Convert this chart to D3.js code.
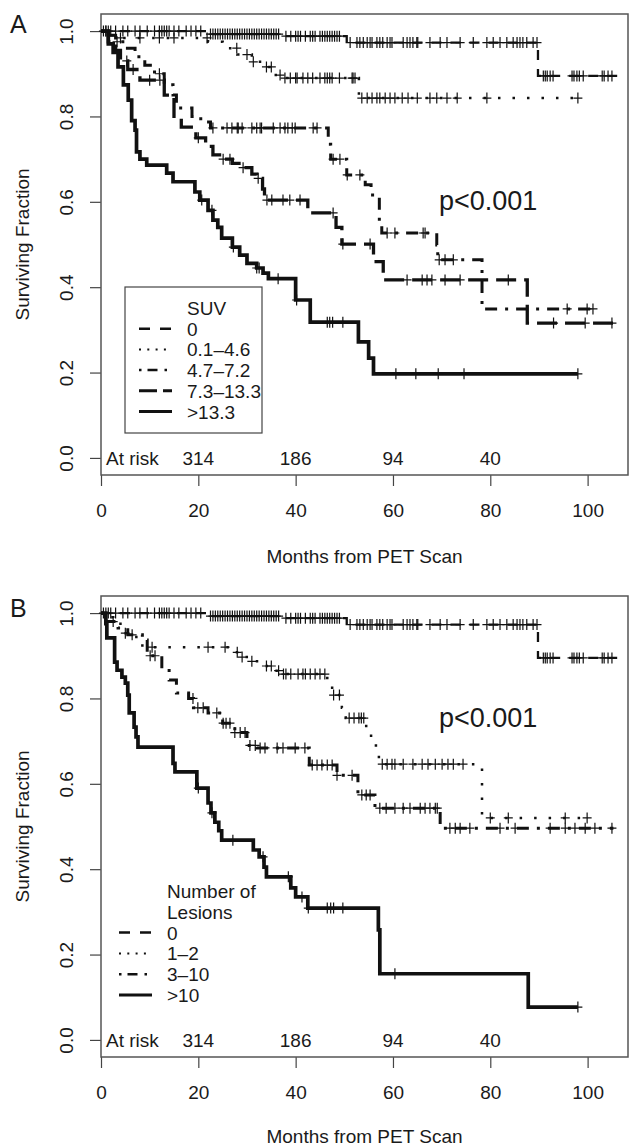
<!DOCTYPE html>
<html>
<head>
<meta charset="utf-8">
<script src="https://cdn.jsdelivr.net/npm/d3@7"></script>
<style>
  body { margin: 0; background: #fff; }
  text { font-family: "Liberation Sans", Arial, sans-serif; fill: #1a1a1a; }
</style>
</head>
<body>
<div id="chart"></div>
<script>
// ---- data ----
var monthTicks = [0, 20, 40, 60, 80, 100];
var survTicks = [0, 0.2, 0.4, 0.6, 0.8, 1.0];
var atRiskTimes = [20, 40, 60, 80];
var atRiskCounts = [314, 186, 94, 40];

// group "0" (same patients in both panels): [month, surviving fraction]
var zeroSteps = [[0,1],[22,0.993],[37.5,0.988],[50.5,0.973],[89.8,0.895]];
var zeroEnd = 106.3;
var zeroCensor = [0.5,1,1.5,2,3,4.5,5.5,7,8,9.5,11,12,12.5,13,13.5,14,15,16,17.5,18.5,19.5,20.5,
  22.5,23,23.5,24,24.5,25,25.5,26,26.5,27,27.5,28,28.5,29,29.5,30,30.5,31,31.5,32,32.5,33,33.5,34,34.5,35,35.5,36,36.5,
  38,39,40,40.5,41,42,43,43.5,44,45,45.5,46,46.5,47,47.5,48,48.5,49,
  51.2,52.6,53.2,53.9,54.7,55.3,55.7,56.7,57.3,57.9,58.8,59.4,59.8,62.1,62.9,63.5,64.1,64.9,65.1,67.6,69.7,71.1,73.8,
  76.5,79.3,80.6,82,83.4,84.7,85.5,86.1,86.7,87.5,88.8,89.6,
  90.9,91.3,91.7,92.3,92.9,96.8,97.2,97.8,98.3,99.1,103,103.4,104.2,105];

// panel A: SUV groups
var suvLowSteps = [[0,1],[1.5,0.99],[3,0.984],[22,0.975],[25,0.96],[28,0.945],[31,0.928],[33,0.916],[35.5,0.897],[37,0.89],[53,0.843]];
var suvLowEnd = 98;
var suvLowCensor = [1,4,8,12,15,21.8,27.9,30,31.3,34,35,36.8,37.8,38.9,40,40.3,41.5,42.5,43.5,45,46,46.5,47,47.5,49,51.6,51.8,52.2,
  53.6,54.7,55.7,56.7,57.3,58.4,59.4,60.4,61.9,63.1,65,67.6,69,71.1,73.2,79.3,98];

var suvMidSteps = [[0,1],[1,0.99],[3,0.975],[5,0.96],[7,0.94],[9,0.92],[11,0.9],[13,0.874],[14.8,0.85],[15.5,0.82],[18.7,0.8],
  [20.5,0.787],[22.5,0.773],[46.7,0.735],[47.2,0.7],[50.5,0.663],[54.3,0.64],[55.5,0.616],[57.2,0.553],[57.7,0.527],
  [69,0.499],[69.2,0.464],[78.3,0.349]];
var suvMidEnd = 102;
var suvMidCensor = [3.3,12,23,25.9,26.9,28,28.2,29,31,32,32.7,33,35.4,36.8,37.8,38.4,39.3,39.9,43.6,44.4,47.7,49.1,50.6,53.2,
  58.8,60.4,66.2,66.6,69.5,70.7,72.4,95.8,99.9,101.1];

var suvUpperSteps = [[0,1],[1.5,0.975],[3,0.955],[4,0.93],[5.5,0.91],[8,0.885],[13,0.85],[15,0.8],[16.5,0.775],[19.5,0.75],
  [21.5,0.73],[23,0.71],[25,0.7],[27,0.69],[29,0.68],[31,0.665],[32,0.655],[33.2,0.63],[33.6,0.604],[42.5,0.574],
  [48.3,0.54],[49.5,0.501],[56,0.46],[58,0.417],[87.6,0.316]];
var suvUpperEnd = 105.8;
var suvUpperCensor = [5.3,6.6,10,12.1,20,25.1,26.5,29.2,32.3,34.1,35.1,37.4,38.8,40.9,47.7,49.7,55.3,62.9,66,67,68,70.7,73.8,83.7,93,99.5,105];

var suvHighSteps = [[0,1],[1.5,0.97],[2.5,0.95],[3.5,0.916],[4.6,0.874],[5.6,0.838],[6.3,0.79],[7,0.768],[7.3,0.717],[8,0.7],
  [9.4,0.686],[13.5,0.667],[14.8,0.647],[19.3,0.623],[20.3,0.604],[22,0.58],[23,0.557],[24,0.54],[24.8,0.515],[27,0.494],
  [28.5,0.475],[30,0.456],[32,0.445],[33.3,0.433],[34.4,0.42],[40,0.37],[43,0.318],[52.9,0.272],[55,0.234],[56,0.197]];
var suvHighEnd = 98;
var suvHighCensor = [20.7,22.8,27.2,32,32.5,36.4,40.2,46.5,47,47.6,49.7,60.6,64.7,69.3,74.6,98];

// panel B: number of lesions
var lesFewSteps = [[0,1],[1,0.99],[2.5,0.98],[4,0.953],[6,0.944],[8.5,0.92],[26.5,0.908],[28.5,0.897],[31,0.887],[33,0.876],
  [35.5,0.865],[37,0.857],[46.5,0.831],[47.5,0.808],[49.5,0.778],[50.3,0.754],[54.5,0.719],[55.5,0.69],[56.5,0.663],
  [57.5,0.646],[78.3,0.52]];
var lesFewEnd = 100.5;
var lesFewCensor = [2.5,5,10.5,22,25.5,28,29,31,34,35,36.5,37.5,38,39,40.5,41.5,42,43,44,45,46,47.8,49,51,52,53,53.5,54,
  57.8,58.8,59.8,60.4,62.1,64.1,66,67.2,68.7,70.1,71.3,72.4,74.4,80,83.7,95.4,99.9];

var lesMidSteps = [[0,1],[1,0.98],[3.5,0.965],[5.5,0.949],[8.5,0.937],[9.5,0.9],[12.5,0.87],[14,0.843],[15.5,0.813],[18,0.8],
  [19,0.778],[22,0.766],[25,0.742],[27.5,0.72],[30,0.69],[32,0.684],[42.8,0.644],[48.5,0.62],[52.8,0.574],[56.3,0.543],[69.7,0.496]];
var lesMidEnd = 105.3;
var lesMidCensor = [6.4,10.1,11.1,18.9,19.9,21,23.8,25.1,25.7,26.5,27.5,28.6,29.6,30.6,31.7,32.7,33.7,36.2,37.4,39.9,41.9,
  43.4,44.4,45.4,46.5,47.5,48.5,51.6,53.6,54.5,55.3,57.3,58.6,60.4,62.1,63.5,65.6,66.6,67.6,68.7,69.1,71.7,72.8,73.8,75.8,
  82,85.1,92.3,95.4,97.4,99.5,101.5,105];

var lesHighSteps = [[0,1],[1,0.975],[1.2,0.942],[2.8,0.885],[3.3,0.866],[4.3,0.85],[5,0.836],[5.5,0.808],[5.8,0.766],[6.8,0.733],
  [7.2,0.71],[7.6,0.686],[14.8,0.648],[15.2,0.628],[19.7,0.59],[22,0.555],[22.6,0.532],[23.4,0.51],[24.2,0.49],[24.8,0.468],
  [31.3,0.445],[32.5,0.429],[33.5,0.405],[34,0.382],[39,0.356],[40,0.335],[42.5,0.309],[57,0.258],[57.3,0.155],[87.8,0.077]];
var lesHighEnd = 98;
var lesHighCensor = [20,22.8,27.1,33.3,38.5,41.3,42.6,46.5,47.2,47.8,49.7,60.4,98];

var suvLabels = ["0", "0.1\u20134.6", "4.7\u20137.2", "7.3\u201313.3", ">13.3"];
var lesionLabels = ["0", "1\u20132", "3\u201310", ">10"];

// ---- line styles (R lty look) ----
var styles = {
  dashed:   {w: 2.3, dash: "10,9",     lw: 2.5, ldash: "11,10"},
  dotted:   {w: 2.5, dash: "2.5,12",   lw: 2,   ldash: "2,6.3"},
  dotdash:  {w: 3,   dash: "3,8,12,8", lw: 2.5, ldash: "2.5,6,10,7"},
  longdash: {w: 3.3, dash: "20,8",     lw: 3,   ldash: "18,6"},
  solid:    {w: 3.7, dash: null,       lw: 3,   ldash: null}
};

var fs = "19px";

var svg = d3.select("#chart").append("svg")
  .attr("width", 630)
  .attr("height", 1148);

var x = d3.scaleLinear().domain([0, 108.3]).range([101, 628]);

function stepAt(steps, t) {
  var s = steps[0][1];
  steps.forEach(function(d) { if (d[0] <= t) s = d[1]; });
  return s;
}

function drawPanel(p) {
  var y = d3.scaleLinear().domain([-0.04, 1.04]).range([p.bottom, p.top]);
  var g = svg.append("g");

  // x axis
  var xa = g.append("g")
    .attr("transform", "translate(0," + p.bottom + ")")
    .call(d3.axisBottom(x).tickValues(monthTicks).tickSize(11).tickFormat(d3.format("d")));
  xa.select(".domain").remove();
  xa.selectAll("line").attr("stroke", "#444").attr("stroke-width", 1.2);
  xa.selectAll("text").attr("y", p.xTickY).attr("dy", 0).style("font-size", fs);

  // y axis
  var ya = g.append("g")
    .attr("transform", "translate(101,0)")
    .call(d3.axisLeft(y).tickValues(survTicks).tickSize(11).tickFormat(d3.format(".1f")));
  ya.select(".domain").remove();
  ya.selectAll("line").attr("stroke", "#444").attr("stroke-width", 1.2);
  ya.selectAll("text")
    .attr("transform", "rotate(-90)")
    .attr("x", 0).attr("y", -28).attr("dy", 0)
    .style("text-anchor", "middle")
    .style("font-size", fs);

  // plot box
  g.append("rect")
    .attr("x", 101).attr("y", p.top)
    .attr("width", 527).attr("height", p.bottom - p.top)
    .attr("fill", "none").attr("stroke", "#555").attr("stroke-width", 1.5);

  // curves
  var line = d3.line()
    .x(function(d) { return x(d[0]); })
    .y(function(d) { return y(d[1]); })
    .curve(d3.curveStepAfter);

  p.groups.forEach(function(grp) {
    var st = styles[grp.style];
    var pts = grp.steps.concat([[grp.end, grp.steps[grp.steps.length - 1][1]]]);
    g.append("path")
      .attr("d", line(pts))
      .attr("fill", "none")
      .attr("stroke", "#111")
      .attr("stroke-width", st.w)
      .attr("stroke-dasharray", st.dash);

    g.selectAll(null)
      .data(grp.censor)
      .enter()
      .append("path")
      .attr("transform", function(t) { return "translate(" + x(t) + "," + y(stepAt(grp.steps, t)) + ")"; })
      .attr("d", "M-4.5,0H4.5M0,-5.5V5.5")
      .attr("stroke", "#111")
      .attr("stroke-width", 1.2);
  });

  // at risk row
  g.append("text").attr("x", 106).attr("y", p.riskY).style("font-size", fs).text("At risk");
  g.selectAll(null)
    .data(atRiskTimes)
    .enter()
    .append("text")
    .attr("x", function(t) { return x(t); })
    .attr("y", p.riskY)
    .style("text-anchor", "middle")
    .style("font-size", fs)
    .text(function(t, i) { return atRiskCounts[i]; });

  // titles
  g.append("text")
    .attr("transform", "translate(29," + ((p.top + p.bottom) / 2) + ") rotate(-90)")
    .style("text-anchor", "middle").style("font-size", fs)
    .text("Surviving Fraction");
  g.append("text")
    .attr("x", 364.5).attr("y", p.xTitleY)
    .style("text-anchor", "middle").style("font-size", fs)
    .text("Months from PET Scan");
  g.append("text")
    .attr("x", 10).attr("y", p.letterY)
    .style("font-size", "25px")
    .text(p.letter);
  g.append("text")
    .attr("x", 439).attr("y", p.pY)
    .style("font-size", "27px")
    .text("p<0.001");

  // legend
  var lg = p.legend;
  if (lg.box) {
    g.append("rect")
      .attr("x", lg.box[0]).attr("y", lg.box[1])
      .attr("width", lg.box[2]).attr("height", lg.box[3])
      .attr("fill", "#fff").attr("stroke", "#444").attr("stroke-width", 1.2);
  }
  lg.title.forEach(function(t, i) {
    g.append("text")
      .attr("x", lg.textX).attr("y", lg.firstY + i * lg.gap)
      .style("font-size", fs).text(t);
  });
  p.groups.forEach(function(grp, i) {
    var by = lg.firstY + (lg.title.length + i) * lg.gap;
    var st = styles[grp.style];
    g.append("line")
      .attr("x1", lg.lineX[0]).attr("x2", lg.lineX[1])
      .attr("y1", by - 7).attr("y2", by - 7)
      .attr("stroke", "#111")
      .attr("stroke-width", st.lw)
      .attr("stroke-dasharray", st.ldash);
    g.append("text")
      .attr("x", lg.textX).attr("y", by)
      .style("font-size", fs)
      .text(lg.labels[i]);
  });
}

drawPanel({
  letter: "A", top: 14, bottom: 475, xTickY: 42, xTitleY: 563, letterY: 33, pY: 210, riskY: 465,
  groups: [
    {steps: zeroSteps, end: zeroEnd, censor: zeroCensor, style: "dashed"},
    {steps: suvLowSteps, end: suvLowEnd, censor: suvLowCensor, style: "dotted"},
    {steps: suvMidSteps, end: suvMidEnd, censor: suvMidCensor, style: "dotdash"},
    {steps: suvUpperSteps, end: suvUpperEnd, censor: suvUpperCensor, style: "longdash"},
    {steps: suvHighSteps, end: suvHighEnd, censor: suvHighCensor, style: "solid"}
  ],
  legend: {box: [125, 287, 137, 146], title: ["SUV"], labels: suvLabels,
           textX: 187, firstY: 315, gap: 20.7, lineX: [139, 172]}
});

drawPanel({
  letter: "B", top: 596, bottom: 1057, xTickY: 42, xTitleY: 1143, letterY: 617, pY: 727, riskY: 1047,
  groups: [
    {steps: zeroSteps, end: zeroEnd, censor: zeroCensor, style: "dashed"},
    {steps: lesFewSteps, end: lesFewEnd, censor: lesFewCensor, style: "dotted"},
    {steps: lesMidSteps, end: lesMidEnd, censor: lesMidCensor, style: "dotdash"},
    {steps: lesHighSteps, end: lesHighEnd, censor: lesHighCensor, style: "solid"}
  ],
  legend: {box: null, title: ["Number of", "Lesions"], labels: lesionLabels,
           textX: 167, firstY: 898, gap: 20.8, lineX: [119, 152]}
});
</script>
</body>
</html>
